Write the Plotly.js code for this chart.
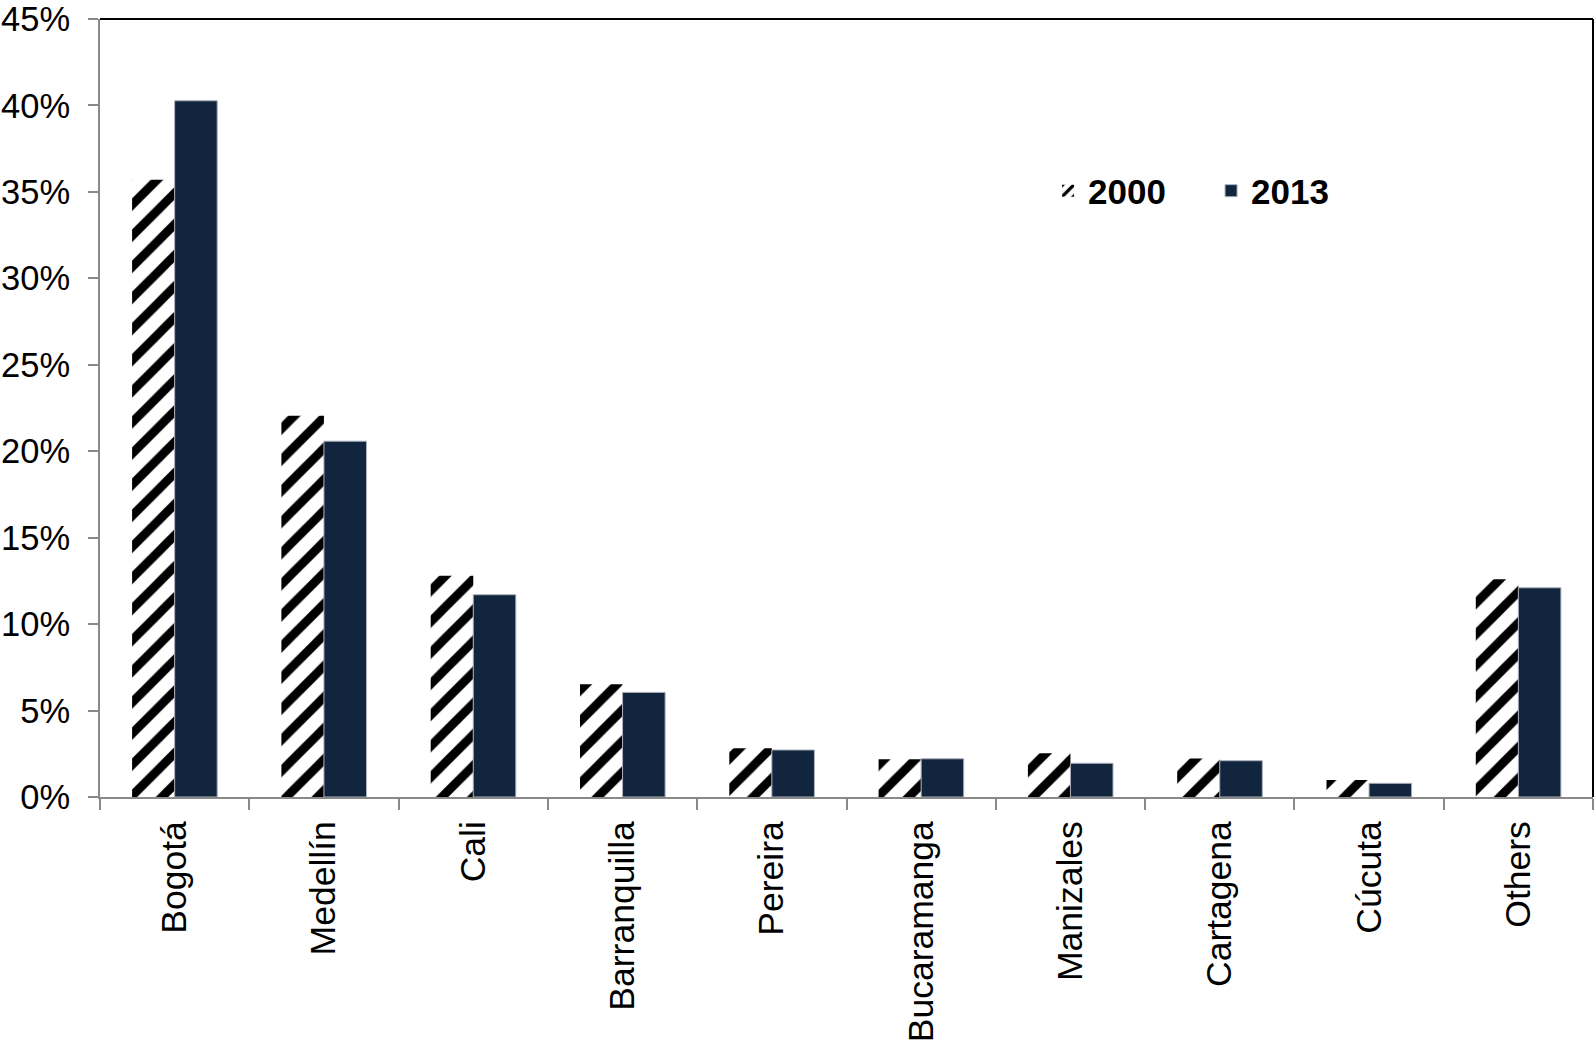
<!DOCTYPE html>
<html>
<head>
<meta charset="utf-8">
<script src="https://cdn.plot.ly/plotly-3.0.1.min.js"></script>
<style>
  html, body { margin: 0; padding: 0; background: #ffffff; }
  #chart { width: 1594px; height: 1041px; }
</style>
</head>
<body>
<div id="chart"></div>
<script>
const cities = ["Bogotá", "Medellín", "Cali", "Barranquilla", "Pereira", "Bucaramanga", "Manizales", "Cartagena", "Cúcuta", "Others"];
const share2000 = [35.7, 22.05, 12.8, 6.52, 2.82, 2.18, 2.53, 2.23, 0.98, 12.6];
const share2013 = [40.27, 20.58, 11.7, 6.05, 2.72, 2.21, 1.95, 2.1, 0.79, 12.1];
const seriesNames = ["2000", "2013"];

const FONT = "Liberation Sans, Arial, sans-serif";
const AXIS_GREY = "#898989";

const traces = [
  {
    type: "bar",
    name: seriesNames[0],
    x: cities,
    y: share2000,
    marker: {
      color: "#ffffff",
      pattern: { shape: "/", fgcolor: "#000000", bgcolor: "#ffffff", size: 22, solidity: 0.4 },
      line: { width: 0 }
    },
    hoverinfo: "x+y"
  },
  {
    type: "bar",
    name: seriesNames[1],
    x: cities,
    y: share2013,
    marker: {
      color: "#12253f",
      line: { color: "#a9b0bb", width: 1 }
    },
    hoverinfo: "x+y"
  }
];

const layout = {
  width: 1594,
  height: 1041,
  paper_bgcolor: "#ffffff",
  plot_bgcolor: "#ffffff",
  margin: { l: 100, r: 1, t: 19, b: 244, pad: 0 },
  barmode: "group",
  bargap: 0.43,
  bargroupgap: 0,
  font: { family: FONT, color: "#000000", size: 34 },
  showlegend: true,
  legend: {
    orientation: "h",
    x: 0.635,
    xanchor: "left",
    y: 0.779,
    yanchor: "middle",
    bgcolor: "rgba(0,0,0,0)",
    entrywidth: 118,
    entrywidthmode: "pixels",
    font: { family: FONT, size: 35, color: "#000000", weight: "bold" },
    traceorder: "normal"
  },
  xaxis: {
    type: "category",
    showgrid: false,
    zeroline: false,
    showline: true,
    linecolor: AXIS_GREY,
    linewidth: 2,
    ticks: "outside",
    tickson: "boundaries",
    ticklen: 11,
    tickwidth: 2,
    tickcolor: AXIS_GREY,
    tickangle: -90,
    tickfont: { family: FONT, size: 35.5, color: "#000000" },
    ticklabelstandoff: 8
  },
  yaxis: {
    range: [0, 45],
    dtick: 5,
    tick0: 0,
    ticksuffix: "%",
    showgrid: false,
    zeroline: false,
    showline: true,
    linecolor: AXIS_GREY,
    linewidth: 2,
    ticks: "outside",
    ticklen: 10,
    tickwidth: 2,
    tickcolor: AXIS_GREY,
    tickfont: { family: FONT, size: 34.5, color: "#000000" },
    ticklabelstandoff: 11
  },
  shapes: [
    { type: "line", xref: "paper", yref: "paper", x0: 0, x1: 1, y0: 1, y1: 1, line: { color: "#000000", width: 2 } },
    { type: "line", xref: "paper", yref: "paper", x0: 1, x1: 1, y0: 0, y1: 1, line: { color: "#000000", width: 2 } }
  ]
};

Plotly.newPlot("chart", traces, layout, { displayModeBar: false, staticPlot: true });
</script>
</body>
</html>
